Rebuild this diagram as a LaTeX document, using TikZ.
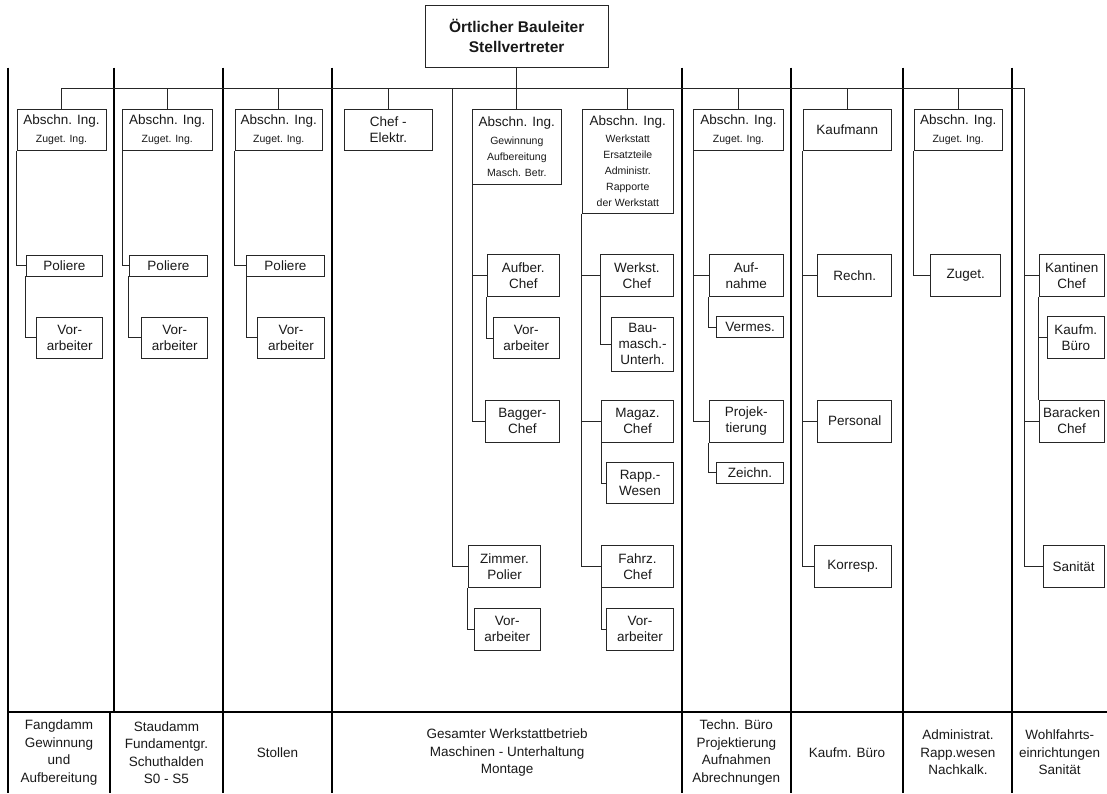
\documentclass[tikz,border=0pt]{standalone}
\usepackage{fontspec}
\setmainfont{Liberation Sans}
\newcommand{\mainf}{\fontsize{13.5}{16}\selectfont}
\newcommand{\smallf}{\fontsize{10.5}{14.2}\selectfont}
\newcommand{\capf}{\fontsize{13.5}{17.5}\selectfont}
\newcommand{\headf}{\fontsize{15.5}{20}\selectfont\bfseries}
% box given by its corners: name, left, top, right, bottom, text
\newcommand{\orgbox}[6]{%
  \node[box, minimum width={#4pt-#2pt}, minimum height={#5pt-#3pt}]
    (#1) at ({(#2+#4)/2},{(#3+#5)/2}) {#6};}
\begin{document}
\begin{tikzpicture}[x=1pt,y=-1pt,
  box/.style={draw=black!85, line width=0.9pt, inner sep=0pt, align=center,
    font=\mainf, text=black!90},
  link/.style={draw=black!85, line width=0.9pt},
  divider/.style={draw=black, line width=2pt},
  caption/.style={inner sep=0pt, align=center, font=\capf, text=black!90}]
\useasboundingbox (0,0) rectangle (1107,793);

% column dividers and the caption row
\draw[divider] (8,67.7) -- (8,793);
\draw[divider] (114,67.7) -- (114,712);
\draw[divider] (110,712) -- (110,793);
\foreach \x in {223,332,682,791,903,1012}
  \draw[divider] (\x,67.7) -- (\x,793);
\draw[divider] (7,712) -- (1107,712);

% head
\node[box, font=\headf, minimum width=183.3pt, minimum height=62.7pt]
  (top) at (516.7,36.35) {Örtlicher Bauleiter\\Stellvertreter};

% first row
\orgbox{a1}{17}{109}{106}{150.7}{Abschn. Ing.\\[1.5pt]\smallf Zuget. Ing.}
\orgbox{a2}{122.5}{109}{212}{150.7}{Abschn. Ing.\\[1.5pt]\smallf Zuget. Ing.}
\orgbox{a3}{235}{109}{322.5}{150.7}{Abschn. Ing.\\[1.5pt]\smallf Zuget. Ing.}
\orgbox{ce}{344}{109}{432.7}{150.7}{Chef -\\Elektr.}
\orgbox{g}{472.7}{109}{561}{184}{Abschn. Ing.\\[1.5pt]\smallf Gewinnung\\\smallf Aufbereitung\\\smallf Masch. Betr.}
\orgbox{w}{582.3}{109}{673.3}{213.3}{Abschn. Ing.\\[1.5pt]\smallf Werkstatt\\\smallf Ersatzteile\\\smallf Administr.\\\smallf Rapporte\\\smallf der Werkstatt}
\orgbox{t}{693.7}{109}{783.4}{150.7}{Abschn. Ing.\\[1.5pt]\smallf Zuget. Ing.}
\orgbox{km}{803}{109}{891.5}{150.7}{Kaufmann}
\orgbox{ad}{914.3}{109}{1002}{150.7}{Abschn. Ing.\\[1.5pt]\smallf Zuget. Ing.}

% columns 1 to 3
\orgbox{p1}{26}{255}{102.7}{276}{Poliere}
\orgbox{v1}{36.7}{317}{102.7}{358}{Vor-\\arbeiter}
\orgbox{p2}{129.3}{255}{207.7}{276}{Poliere}
\orgbox{v2}{141.7}{317}{207.7}{358}{Vor-\\arbeiter}
\orgbox{p3}{246.7}{255}{324.3}{276}{Poliere}
\orgbox{v3}{257.7}{317}{324.3}{358}{Vor-\\arbeiter}

% workshop column
\orgbox{ac}{487.3}{254.3}{559.3}{296.7}{Aufber.\\Chef}
\orgbox{gv}{493.3}{317.3}{559.3}{358.7}{Vor-\\arbeiter}
\orgbox{bc}{485.3}{400}{559.3}{442.3}{Bagger-\\Chef}
\orgbox{zp}{468.3}{545.7}{540.7}{587.7}{Zimmer.\\Polier}
\orgbox{zv}{474}{608.3}{540.7}{650}{Vor-\\arbeiter}
\orgbox{wc}{600.5}{254.3}{673.3}{296.7}{Werkst.\\Chef}
\orgbox{bu}{611.7}{317.3}{673.3}{371}{Bau-\\masch.-\\Unterh.}
\orgbox{mc}{601.7}{400}{673.3}{442.3}{Magaz.\\Chef}
\orgbox{rw}{606.7}{462.7}{673.3}{503.3}{Rapp.-\\Wesen}
\orgbox{fc}{601.7}{545.7}{673.3}{587.7}{Fahrz.\\Chef}
\orgbox{fv}{606.7}{608.3}{673.3}{650}{Vor-\\arbeiter}

% technical office
\orgbox{an}{709.3}{254.3}{783.3}{296.7}{Auf-\\nahme}
\orgbox{vm}{716.7}{316.7}{783.3}{337.7}{Vermes.}
\orgbox{pj}{709.3}{400}{783.3}{442.3}{Projek-\\tierung}
\orgbox{ze}{716.7}{462.3}{783.3}{483.3}{Zeichn.}

% commercial office
\orgbox{re}{817.7}{254.3}{891.7}{296.7}{Rechn.}
\orgbox{pe}{817.7}{400}{891.7}{442.3}{Personal}
\orgbox{ko}{814}{545.7}{891.7}{587.7}{Korresp.}

% administration
\orgbox{zu}{930.7}{254.3}{1000.7}{296.7}{Zuget.}

% welfare
\orgbox{kc}{1039.3}{254.3}{1104}{296.7}{Kantinen\\Chef}
\orgbox{kb}{1047.7}{316.7}{1104}{358.3}{Kaufm.\\Büro}
\orgbox{bk}{1039.3}{400}{1104}{442.3}{Baracken\\Chef}
\orgbox{sa}{1043.3}{545.7}{1104}{587.7}{Sanität}

% main bus
\coordinate (busL) at (61.5,88.3);
\coordinate (busR) at (1024.4,88.3);
\coordinate (zbus) at (452.7,88.3);
\draw[link] (busL) -- (busR);
\draw[link] (top.south) -- (top.south |- busL);
\foreach \n in {a1,a2,a3,ce,g,w,t,km,ad}
  \draw[link] (\n.north) -- (\n.north |- busL);

% branches
\draw[link] (a1.south west) |- (p1.west);
\draw[link] (p1.south west) |- (v1.west);
\draw[link] (a2.south west) |- (p2.west);
\draw[link] (p2.south west) |- (v2.west);
\draw[link] (a3.south west) |- (p3.west);
\draw[link] (p3.south west) |- (v3.west);

\draw[link] (g.south west) |- (bc.west);
\draw[link] (g.south west) |- (ac.west);
\draw[link] (ac.south west) |- (gv.west);
\draw[link] (zbus) |- (zp.west);
\draw[link] (zp.south west) |- (zv.west);

\draw[link] (w.south west) |- (fc.west);
\draw[link] (w.south west) |- (wc.west);
\draw[link] (w.south west) |- (mc.west);
\draw[link] (wc.south west) |- (bu.west);
\draw[link] (mc.south west) |- (rw.west);
\draw[link] (fc.south west) |- (fv.west);

\draw[link] (t.south west) |- (pj.west);
\draw[link] (t.south west) |- (an.west);
\draw[link] (an.south west) |- (vm.west);
\draw[link] (pj.south west) |- (ze.west);

\draw[link] (km.south west) |- (ko.west);
\draw[link] (km.south west) |- (re.west);
\draw[link] (km.south west) |- (pe.west);

\draw[link] (ad.south west) |- (zu.west);

\draw[link] (busR) |- (sa.west);
\draw[link] (busR) |- (kc.west);
\draw[link] (busR) |- (bk.west);
\draw[link] (kc.south west) -- (bk.north west);
\draw[link] (kc.south west) |- (kb.west);

% captions
\node[caption] (c1) at (59,752.5) {Fangdamm\\Gewinnung\\und\\Aufbereitung};
\node[caption] (c2) at (166.4,752.5) {Staudamm\\Fundamentgr.\\Schuthalden\\S0 - S5};
\node[caption] (c3) at (277.6,752.5) {Stollen};
\node[caption] (c4) at (507.2,752.5) {Gesamter Werkstattbetrieb\\Maschinen - Unterhaltung\\Montage};
\node[caption] (c5) at (736.3,752.5) {Techn. Büro\\Projektierung\\Aufnahmen\\Abrechnungen};
\node[caption] (c6) at (847,752.5) {Kaufm. Büro};
\node[caption] (c7) at (957.9,752.5) {Administrat.\\Rapp.wesen\\Nachkalk.};
\node[caption] (c8) at (1059.7,752.5) {Wohlfahrts-\\einrichtungen\\Sanität};
\end{tikzpicture}
\end{document}
